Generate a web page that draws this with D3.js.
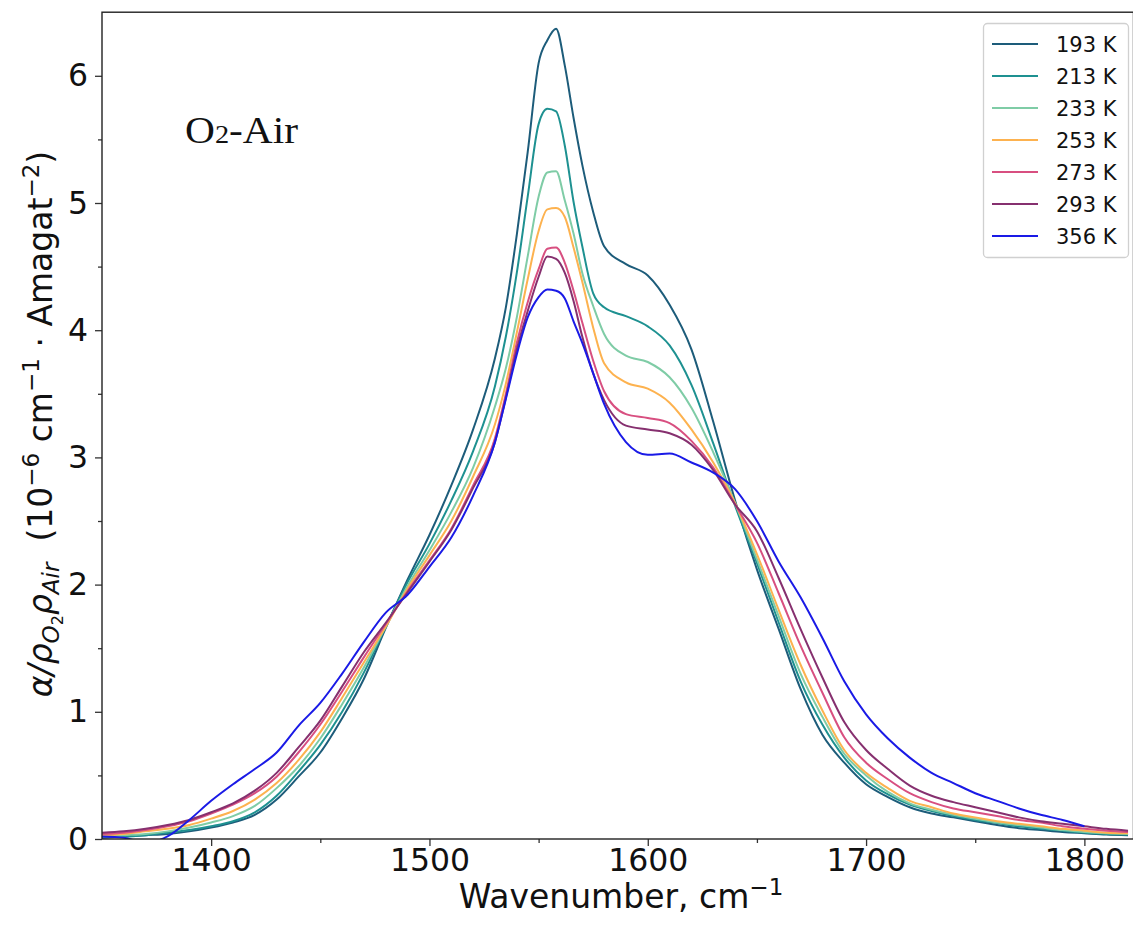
<!DOCTYPE html>
<html>
<head>
<meta charset="utf-8">
<script src="https://cdn.jsdelivr.net/npm/d3@7/dist/d3.min.js"></script>
<style>
  body { margin: 0; background: #fff; }
  svg { display: block; font-family: "DejaVu Sans", sans-serif; }
</style>
</head>
<body>
<div id="chart"></div>
<script>
// wavenumber grid (cm^-1), denser around the main peak
const wavenumber = [1350,1360,1370,1380,1390,1400,1410,1420,1430,1440,1450,1460,1470,1480,
  1490,1500,1510,1520,1530,1535,1540,1545,1550,1554,1558,1562,1566,1570,1575,1580,
  1590,1600,1610,1620,1630,1640,1650,1660,1670,1680,1690,1700,1710,1720,1730,1740,
  1750,1760,1770,1780,1790,1800,1810,1820];

const temps = ['193 K', '213 K', '233 K', '253 K', '273 K', '293 K', '356 K'];
const colors = ['#1d5c7a', '#1e9191', '#7fcca6', '#fdb24f', '#d84f80', '#86306f', '#1a1ae6'];

// absorption / (rho_O2 rho_Air)
const k193 = [0.01,0.02,0.03,0.04,0.06,0.09,0.13,0.19,0.31,0.49,0.68,0.95,1.26,1.66,
  2.04,2.39,2.78,3.22,3.78,4.18,4.75,5.40,6.10,6.28,6.37,6.08,5.67,5.30,4.93,4.66,
  4.52,4.43,4.20,3.85,3.28,2.66,2.12,1.65,1.18,0.82,0.60,0.43,0.33,0.25,0.20,0.17,
  0.14,0.11,0.085,0.07,0.055,0.045,0.035,0.03];
const k213 = [0.02,0.02,0.03,0.05,0.07,0.10,0.14,0.21,0.34,0.53,0.74,1.00,1.31,1.67,
  2.02,2.32,2.66,3.05,3.56,3.95,4.45,5.05,5.62,5.74,5.72,5.45,5.01,4.66,4.29,4.18,
  4.11,4.03,3.88,3.57,3.11,2.62,2.17,1.70,1.24,0.90,0.64,0.46,0.35,0.27,0.22,0.18,
  0.15,0.125,0.10,0.08,0.065,0.05,0.04,0.035];
const k233 = [0.02,0.03,0.04,0.06,0.09,0.13,0.18,0.26,0.40,0.57,0.79,1.06,1.35,1.67,
  1.99,2.27,2.57,2.92,3.40,3.70,4.10,4.58,5.05,5.24,5.25,5.02,4.76,4.45,4.19,3.97,
  3.80,3.75,3.63,3.39,3.04,2.64,2.20,1.75,1.30,0.96,0.67,0.50,0.37,0.28,0.23,0.19,
  0.16,0.13,0.11,0.09,0.07,0.055,0.045,0.04];
const k253 = [0.03,0.04,0.06,0.08,0.11,0.16,0.22,0.31,0.44,0.62,0.84,1.11,1.39,1.67,
  1.97,2.23,2.50,2.85,3.26,3.58,3.98,4.40,4.78,4.95,4.96,4.89,4.65,4.38,4.02,3.74,
  3.59,3.54,3.43,3.22,2.96,2.64,2.24,1.80,1.37,1.01,0.70,0.52,0.40,0.30,0.25,0.20,
  0.17,0.14,0.12,0.10,0.08,0.065,0.05,0.045];
const k273 = [0.04,0.05,0.07,0.10,0.14,0.20,0.27,0.36,0.49,0.68,0.90,1.16,1.43,1.69,
  1.95,2.19,2.44,2.78,3.15,3.50,3.90,4.22,4.48,4.64,4.65,4.53,4.31,4.06,3.76,3.52,
  3.34,3.31,3.27,3.13,2.92,2.63,2.33,1.93,1.52,1.15,0.80,0.60,0.47,0.36,0.29,0.24,
  0.21,0.18,0.15,0.13,0.10,0.08,0.065,0.055];
const k293 = [0.05,0.06,0.08,0.11,0.15,0.21,0.28,0.38,0.52,0.72,0.93,1.20,1.47,1.70,
  1.94,2.18,2.43,2.76,3.12,3.47,3.85,4.15,4.42,4.58,4.56,4.45,4.23,3.95,3.66,3.45,
  3.25,3.22,3.19,3.10,2.90,2.63,2.42,2.05,1.65,1.27,0.92,0.70,0.55,0.42,0.34,0.29,
  0.25,0.21,0.17,0.14,0.12,0.10,0.08,0.065];
const k356 = [0.02,0.01,-0.03,0.02,0.15,0.30,0.43,0.55,0.68,0.89,1.07,1.30,1.55,1.78,
  1.92,2.14,2.37,2.70,3.12,3.46,3.81,4.10,4.26,4.32,4.31,4.25,4.07,3.90,3.66,3.42,
  3.12,3.02,3.03,2.96,2.88,2.75,2.50,2.18,1.90,1.58,1.24,0.98,0.79,0.64,0.52,0.44,
  0.36,0.30,0.24,0.19,0.15,0.10,null,null];

const seriesValues = [k193, k213, k233, k253, k273, k293, k356];

const xMajor = [1400, 1500, 1600, 1700, 1800];
const xMinor = [1450, 1550, 1650, 1750];
const yMajor = [0, 1, 2, 3, 4, 5, 6];
const yMinor = [0.5, 1.5, 2.5, 3.5, 4.5, 5.5];

const width = 1133, height = 926;
const plot = { left: 102, right: 1133.5, top: 12.2, bottom: 839 };

const x = d3.scaleLinear().domain([1350, 1822.5]).range([plot.left, plot.right]);
const y = d3.scaleLinear().domain([0, 6.5]).range([plot.bottom, plot.top]);

const svg = d3.select('#chart').append('svg')
    .attr('width', width)
    .attr('height', height);

svg.append('defs').append('clipPath')
    .attr('id', 'plot-clip')
  .append('rect')
    .attr('x', plot.left)
    .attr('y', plot.top)
    .attr('width', plot.right - plot.left)
    .attr('height', plot.bottom - plot.top);

// curves
const line = d3.line()
    .defined(d => d[1] != null)
    .x(d => x(d[0]))
    .y(d => y(d[1]))
    .curve(d3.curveMonotoneX);

svg.append('g')
    .attr('clip-path', 'url(#plot-clip)')
  .selectAll('path')
  .data(seriesValues)
  .join('path')
    .attr('d', vals => line(wavenumber.map((w, i) => [w, vals[i]])))
    .attr('fill', 'none')
    .attr('stroke', (d, i) => colors[i])
    .attr('stroke-width', 2)
    .attr('stroke-linejoin', 'round');

// axes
const tickColor = '#333';

svg.append('g')
    .attr('transform', `translate(0,${plot.bottom})`)
    .call(d3.axisBottom(x).tickValues(xMajor).tickSize(7).tickSizeOuter(0).tickPadding(3).tickFormat(d3.format('d')));
svg.append('g')
    .attr('transform', `translate(0,${plot.bottom})`)
    .call(d3.axisBottom(x).tickValues(xMinor).tickSize(4).tickSizeOuter(0).tickFormat(''));

svg.append('g')
    .attr('transform', `translate(${plot.left},0)`)
    .call(d3.axisLeft(y).tickValues(yMajor).tickSize(7).tickSizeOuter(0).tickPadding(7).tickFormat(d3.format('d')));
svg.append('g')
    .attr('transform', `translate(${plot.left},0)`)
    .call(d3.axisLeft(y).tickValues(yMinor).tickSize(4).tickSizeOuter(0).tickFormat(''));

svg.selectAll('.domain').remove();
svg.selectAll('.tick line').attr('stroke', tickColor).attr('stroke-width', 1.3);
svg.selectAll('.tick text')
    .attr('font-family', '"DejaVu Sans", sans-serif')
    .attr('font-size', 31.5)
    .attr('fill', '#111');

// frame
svg.append('rect')
    .attr('x', plot.left)
    .attr('y', plot.top)
    .attr('width', plot.right - plot.left)
    .attr('height', plot.bottom - plot.top)
    .attr('fill', 'none')
    .attr('stroke', '#222')
    .attr('stroke-width', 1.4);

// axis titles
const xTitle = svg.append('text')
    .attr('x', 621)
    .attr('y', 908)
    .attr('text-anchor', 'middle')
    .attr('font-size', 33)
    .attr('fill', '#111');
xTitle.append('tspan').text('Wavenumber, cm');
xTitle.append('tspan').attr('font-size', 23).attr('dy', -13).text('\u22121');

const yTitle = svg.append('text')
    .attr('transform', 'translate(52,424) rotate(-90)')
    .attr('text-anchor', 'middle')
    .attr('font-size', 33)
    .attr('fill', '#111')
    .style('white-space', 'pre');
const parts = [
  { t: '\u03b1/\u03c1', it: true, fs: 33, dy: 0 },
  { t: 'O', it: true, fs: 23, dy: 7 },
  { t: '2', it: false, fs: 16, dy: 4 },
  { t: '\u03c1', it: true, fs: 33, dy: -11 },
  { t: 'Air', it: true, fs: 23, dy: 7 },
  { t: '  (10', it: false, fs: 33, dy: -7 },
  { t: '\u22126', it: false, fs: 23, dy: -13 },
  { t: ' cm', it: false, fs: 33, dy: 13 },
  { t: '\u22121', it: false, fs: 23, dy: -13 },
  { t: ' \u00b7 Amagat', it: false, fs: 33, dy: 13 },
  { t: '\u22122', it: false, fs: 23, dy: -13 },
  { t: ')', it: false, fs: 33, dy: 13 }
];
parts.forEach(p => {
  yTitle.append('tspan')
      .attr('font-size', p.fs)
      .attr('font-style', p.it ? 'italic' : 'normal')
      .attr('dy', p.dy)
      .text(p.t);
});

// annotation (slightly widened like the source image)
const note = svg.append('text')
    .attr('transform', 'translate(185,143) scale(1.09,1)')
    .attr('font-family', '"Liberation Serif", "Times New Roman", serif')
    .attr('font-size', 38)
    .attr('fill', '#111');
note.append('tspan').text('O');
note.append('tspan').attr('font-size', 26).text('2');
note.append('tspan').text('-Air');

// legend
const legend = svg.append('g');
legend.append('rect')
    .attr('x', 983.5)
    .attr('y', 23.5)
    .attr('width', 145)
    .attr('height', 234)
    .attr('rx', 4)
    .attr('fill', '#fff')
    .attr('fill-opacity', 0.85)
    .attr('stroke', '#d0d0d0')
    .attr('stroke-width', 1.3);

const rows = legend.selectAll('g.row')
  .data(temps)
  .join('g')
    .attr('class', 'row')
    .attr('transform', (d, i) => `translate(0,${44 + i * 32})`);
rows.append('line')
    .attr('x1', 992)
    .attr('x2', 1038)
    .attr('stroke', (d, i) => colors[i])
    .attr('stroke-width', 2);
rows.append('text')
    .attr('x', 1056)
    .attr('dy', '0.36em')
    .attr('font-size', 21)
    .attr('fill', '#111')
    .text(d => d);
</script>
</body>
</html>
